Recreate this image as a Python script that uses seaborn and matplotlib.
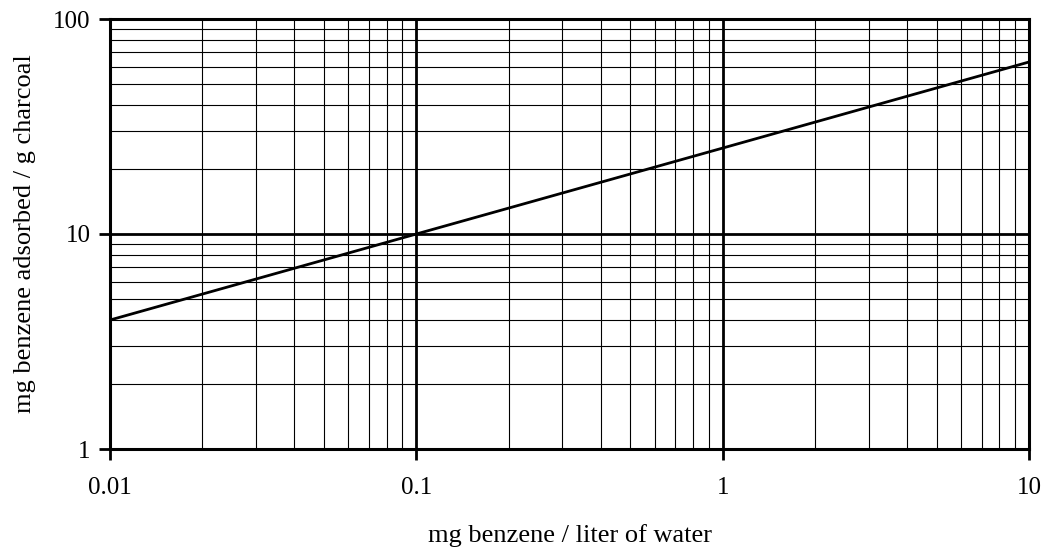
import numpy as np
import pandas as pd
import seaborn as sns
import matplotlib.pyplot as plt
from matplotlib.ticker import FixedLocator, NullFormatter

sns.set_theme(style="white")
plt.rcParams['font.family'] = ['Liberation Serif', 'DejaVu Serif']

conc = [0.01, 0.1, 1, 10]
adsorbed = [3.98, 10.0, 25.1, 63.1]
x_ticks = [0.01, 0.1, 1, 10]
x_labels = ["0.01", "0.1", "1", "10"]
y_ticks = [1, 10, 100]
y_labels = ["1", "10", "100"]

df = pd.DataFrame({"x": conc, "y": adsorbed})

fig = plt.figure(figsize=(10.47, 5.53), dpi=100)
ax = fig.add_axes([110/1047, 1 - 449/553, (1029-110)/1047, (449-19)/553])
ax.set_xscale("log")
ax.set_yscale("log")
ax.set_xlim(0.01, 10)
ax.set_ylim(1, 100)

# minor grid
minor_x = [m * d for d in [0.01, 0.1, 1] for m in range(2, 10)]
minor_y = [m * d for d in [1, 10] for m in range(2, 10)]
for v in minor_x:
    ax.axvline(v, color="black", lw=0.8, zorder=1)
for v in minor_y:
    ax.axhline(v, color="black", lw=0.8, zorder=1)
for v in x_ticks[1:-1]:
    ax.axvline(v, color="black", lw=2.0, zorder=1)
for v in y_ticks[1:-1]:
    ax.axhline(v, color="black", lw=2.0, zorder=1)

sns.lineplot(data=df, x="x", y="y", ax=ax, color="black", lw=2.0, zorder=3)

ax.xaxis.set_major_locator(FixedLocator(x_ticks))
ax.yaxis.set_major_locator(FixedLocator(y_ticks))
ax.set_xticklabels(x_labels)
ax.set_yticklabels(y_labels)
ax.xaxis.set_minor_locator(FixedLocator([]))
ax.yaxis.set_minor_locator(FixedLocator([]))
ax.xaxis.set_minor_formatter(NullFormatter())
ax.yaxis.set_minor_formatter(NullFormatter())
ax.tick_params(axis="both", which="major", direction="out", length=8, width=2,
               color="black", labelsize=18, labelcolor="black",
               bottom=True, left=True, top=False, right=False)
ax.tick_params(axis="x", pad=12)
ax.tick_params(axis="y", pad=6)

for s in ax.spines.values():
    s.set_color("black")
    s.set_linewidth(2.2)
    s.set_visible(True)

ax.set_xlabel("mg benzene / liter of water", fontsize=19, color="black", labelpad=18)
ax.set_ylabel("mg benzene adsorbed / g charcoal", fontsize=19, color="black", labelpad=12)

fig.savefig("out.png", dpi=100)
